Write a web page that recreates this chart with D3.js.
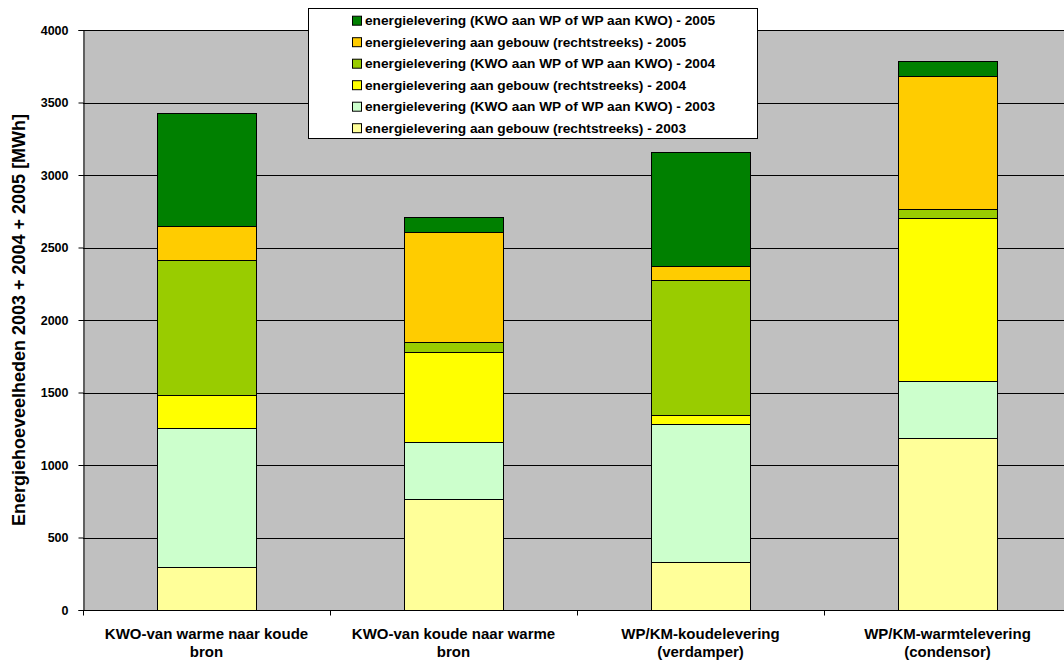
<!DOCTYPE html>
<html>
<head>
<meta charset="utf-8">
<script src="https://cdn.jsdelivr.net/npm/d3@7"></script>
<style>
  html, body { margin: 0; padding: 0; background: #fff; }
  svg { display: block; font-family: "Liberation Sans", Arial, sans-serif; }
</style>
</head>
<body>
<svg id="chart" width="1064" height="663"></svg>
<script>
// Categories (two-line labels)
const categories = [
  ["KWO-van warme naar koude", "bron"],
  ["KWO-van koude naar warme", "bron"],
  ["WP/KM-koudelevering", "(verdamper)"],
  ["WP/KM-warmtelevering", "(condensor)"]
];

// Series, stacked bottom to top (MWh)
const seriesNames = [
  "energielevering aan gebouw (rechtstreeks) - 2003",
  "energielevering (KWO aan WP of WP aan KWO) - 2003",
  "energielevering aan gebouw (rechtstreeks) - 2004",
  "energielevering (KWO aan WP of WP aan KWO) - 2004",
  "energielevering aan gebouw (rechtstreeks) - 2005",
  "energielevering (KWO aan WP of WP aan KWO) - 2005"
];
const direct2003 = [300, 768, 333, 1187];
const kwo2003    = [955, 393, 952, 395];
const direct2004 = [230, 620, 60, 1118];
const kwo2004    = [930, 67, 931, 67];
const direct2005 = [230, 759, 96, 915];
const kwo2005    = [780, 106, 784, 103];
const seriesColors = ["#ffff99", "#ccffcc", "#ffff00", "#99cc00", "#ffcc00", "#008000"];

const yTicks = [0, 500, 1000, 1500, 2000, 2500, 3000, 3500, 4000];
const yTitle = "Energiehoeveelheden 2003 + 2004 + 2005 [MWh]";

const seriesValues = [direct2003, kwo2003, direct2004, kwo2004, direct2005, kwo2005];

const svg = d3.select("#chart");
const plot = { left: 83, top: 30, right: 1071, bottom: 610 };

const x = d3.scaleBand()
  .domain(d3.range(categories.length))
  .range([plot.left, plot.right])
  .paddingInner(0.6)
  .paddingOuter(0.3);

const y = d3.scaleLinear().domain([0, 4000]).range([plot.bottom, plot.top]);

// Plot background
svg.append("rect")
  .attr("x", plot.left).attr("y", plot.top)
  .attr("width", plot.right - plot.left).attr("height", plot.bottom - plot.top)
  .attr("fill", "#c0c0c0");

// Horizontal gridlines
svg.append("g").selectAll("line").data(yTicks.filter(d => d > 0)).join("line")
  .attr("x1", plot.left).attr("x2", plot.right)
  .attr("y1", d => Math.round(y(d)) + 0.5).attr("y2", d => Math.round(y(d)) + 0.5)
  .attr("stroke", "#000").attr("stroke-width", 1);

// Stacked bars
const rows = categories.map((c, i) => {
  const r = { idx: i };
  seriesValues.forEach((s, k) => { r["s" + k] = s[i]; });
  return r;
});
const stack = d3.stack().keys(seriesValues.map((s, k) => "s" + k));
const stacked = stack(rows);

svg.append("g").selectAll("g").data(stacked).join("g")
  .attr("fill", (d, k) => seriesColors[k])
  .selectAll("rect").data(d => d).join("rect")
  .attr("x", d => Math.round(x(d.data.idx)) + 0.5)
  .attr("width", Math.round(x.bandwidth()))
  .attr("y", d => Math.round(y(d[1])) + 0.5)
  .attr("height", d => Math.round(y(d[0])) - Math.round(y(d[1])))
  .attr("stroke", "#000").attr("stroke-width", 1);

// Y axis
const yAxis = svg.append("g")
  .attr("transform", `translate(${plot.left + 0.5},0)`)
  .call(d3.axisLeft(y).tickValues(yTicks).tickSize(5).tickPadding(10).tickFormat(d3.format("d")));
yAxis.select(".domain").attr("stroke", "#000");
yAxis.selectAll(".tick line").attr("stroke", "#000");
yAxis.selectAll(".tick text")
  .attr("fill", "#000").attr("font-size", 12.5).attr("font-weight", "bold")
  .attr("font-family", "Liberation Sans, Arial, sans-serif");

// X axis
const xAxisG = svg.append("g").attr("transform", `translate(0,${plot.bottom + 0.5})`);
xAxisG.append("line")
  .attr("x1", plot.left).attr("x2", plot.right)
  .attr("stroke", "#000");
const boundaries = d3.range(categories.length + 1).map(i => plot.left + i * x.step());
xAxisG.selectAll("line.tk").data(boundaries).join("line").attr("class", "tk")
  .attr("x1", d => Math.round(d) + 0.5).attr("x2", d => Math.round(d) + 0.5)
  .attr("y1", 0).attr("y2", 5).attr("stroke", "#000");

const catLabels = svg.append("g").selectAll("text").data(categories).join("text")
  .attr("x", (d, i) => x(i) + x.bandwidth() / 2)
  .attr("y", 639)
  .attr("text-anchor", "middle")
  .attr("font-size", 15).attr("font-weight", "bold").attr("fill", "#000");
catLabels.selectAll("tspan").data(d => d).join("tspan")
  .attr("x", function () { return d3.select(this.parentNode).attr("x"); })
  .attr("dy", (d, j) => j === 0 ? 0 : 18)
  .text(d => d);

// Y axis title
svg.append("text")
  .attr("transform", "translate(25,320) rotate(-90)")
  .attr("text-anchor", "middle")
  .attr("font-size", 18).attr("font-weight", "bold").attr("fill", "#000")
  .text(yTitle);

// Legend (top series first)
const legend = svg.append("g");
legend.append("rect")
  .attr("x", 308.5).attr("y", 8.5).attr("width", 449).attr("height", 130)
  .attr("fill", "#fff").attr("stroke", "#000");
const legendOrder = d3.range(seriesNames.length).reverse();
const li = legend.selectAll("g.item").data(legendOrder).join("g").attr("class", "item")
  .attr("transform", (k, j) => `translate(0,${20.7 + j * 21.5})`);
li.append("rect")
  .attr("x", 352.5).attr("y", -4.5).attr("width", 9).attr("height", 9)
  .attr("fill", k => seriesColors[k]).attr("stroke", "#000");
li.append("text")
  .attr("x", 365).attr("y", 0).attr("dy", "0.35em")
  .attr("font-size", 13.7).attr("font-weight", "bold").attr("fill", "#000")
  .text(k => seriesNames[k]);
</script>
</body>
</html>
